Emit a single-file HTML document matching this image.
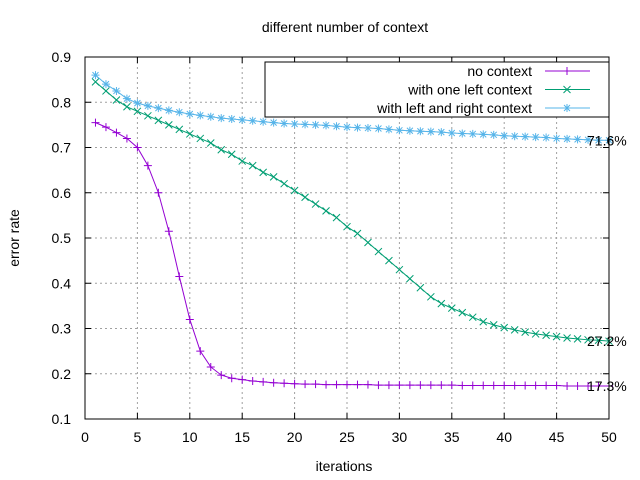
<!DOCTYPE html>
<html><head><meta charset="utf-8"><style>
body{margin:0;background:#fff}
svg{display:block;font-family:"Liberation Sans",sans-serif;font-size:14px}
</style></head><body>
<svg id="chart" width="640" height="480" xmlns="http://www.w3.org/2000/svg">
<rect width="640" height="480" fill="#fff"/>
<text x="345" y="32" text-anchor="middle">different number of context</text>
<text transform="translate(19,238) rotate(-90)" text-anchor="middle">error rate</text>
<text x="344" y="471" text-anchor="middle">iterations</text>
<g id="grid"></g><g id="ticks"></g><g id="series"></g>
<rect x="85" y="57" width="524" height="362" fill="none" stroke="#000"/>
<g id="legend">
<rect x="265" y="62" width="344" height="55" fill="#fff" stroke="#000"/>
</g>
<g id="labels"></g>
</svg>
<script>
const iterations=[1,2,3,4,5,6,7,8,9,10,11,12,13,14,15,16,17,18,19,20,21,22,23,24,25,26,27,28,29,30,31,32,33,34,35,36,37,38,39,40,41,42,43,44,45,46,47,48,49,50];
const noContext=[0.755,0.745,0.733,0.72,0.70,0.66,0.60,0.515,0.415,0.32,0.25,0.215,0.197,0.19,0.187,0.184,0.182,0.18,0.179,0.178,0.177,0.177,0.176,0.176,0.176,0.176,0.176,0.175,0.175,0.175,0.175,0.175,0.175,0.175,0.175,0.174,0.174,0.174,0.174,0.174,0.174,0.174,0.174,0.174,0.174,0.173,0.173,0.173,0.173,0.173];
const oneLeft=[0.845,0.825,0.805,0.79,0.78,0.77,0.76,0.75,0.74,0.73,0.72,0.71,0.695,0.685,0.67,0.66,0.645,0.635,0.62,0.605,0.59,0.575,0.56,0.545,0.525,0.51,0.49,0.47,0.45,0.43,0.41,0.39,0.37,0.355,0.345,0.335,0.325,0.315,0.308,0.302,0.297,0.292,0.288,0.285,0.282,0.279,0.277,0.275,0.274,0.272];
const leftRight=[0.86,0.84,0.825,0.808,0.798,0.792,0.787,0.782,0.778,0.774,0.771,0.768,0.765,0.763,0.761,0.759,0.757,0.755,0.753,0.752,0.751,0.75,0.749,0.747,0.745,0.744,0.743,0.742,0.740,0.738,0.737,0.736,0.735,0.734,0.732,0.731,0.730,0.729,0.728,0.726,0.725,0.724,0.723,0.722,0.720,0.719,0.718,0.717,0.716,0.716];
const xTicks=[0,5,10,15,20,25,30,35,40,45,50];
const yTicks=[0.1,0.2,0.3,0.4,0.5,0.6,0.7,0.8,0.9];
const seriesNames=["no context","with one left context","with left and right context"];
const finalLabels=["17.3%","27.2%","71.6%"];
const NS="http://www.w3.org/2000/svg";
const X=v=>85+v*524/50, Y=v=>419-(v-0.1)*362/0.8;
function mk(tag,attrs,parent){const e=document.createElementNS(NS,tag);for(const k in attrs)e.setAttribute(k,attrs[k]);document.getElementById(parent).appendChild(e);return e;}
xTicks.forEach(t=>{
 const g=mk('line',{x1:X(t),x2:X(t),y1:57,y2:419,stroke:'#a0a0a0','stroke-dasharray':'2,3'},'grid');
 
 
 const tl=mk('text',{x:X(t),y:442,'text-anchor':'middle'},'ticks');tl.textContent=t;
 
 
 mk('line',{x1:X(t),x2:X(t),y1:419,y2:413,stroke:'#000'},'ticks');
 mk('line',{x1:X(t),x2:X(t),y1:57,y2:63,stroke:'#000'},'ticks');
});
yTicks.forEach(t=>{
 const g=mk('line',{x1:85,x2:609,y1:Y(t),y2:Y(t),stroke:'#a0a0a0','stroke-dasharray':'2,3'},'grid');
 
 
 const tl=mk('text',{x:71,y:Y(t)+5,'text-anchor':'end'},'ticks');tl.textContent=t.toFixed(1);
 
 
 mk('line',{x1:85,x2:91,y1:Y(t),y2:Y(t),stroke:'#000'},'ticks');
 mk('line',{x1:609,x2:603,y1:Y(t),y2:Y(t),stroke:'#000'},'ticks');
});
function marker(type,x,y,c,parent){
 let d;
 if(type==0)d=`M${x-4},${y}h8M${x},${y-4}v8`;
 else if(type==1)d=`M${x-3.5},${y-3.5}l7,7M${x-3.5},${y+3.5}l7,-7`;
 else d=`M${x-4},${y}h8M${x},${y-4}v8M${x-3},${y-3}l6,6M${x-3},${y+3}l6,-6`;
 mk('path',{d:d,stroke:c,fill:'none','stroke-width':1},parent);
}
const data=[noContext,oneLeft,leftRight],colors=['#9400d3','#009e73','#56b4e9'],names=['no-context-series','one-left-context-series','left-right-context-series'];
data.forEach((s,i)=>{
 const g=mk('g',{id:'s'+i},'series');
 
 
 const l=mk('polyline',{points:s.map((v,j)=>X(iterations[j])+','+Y(v)).join(' '),fill:'none',stroke:colors[i]},'s'+i);
 
 
 s.forEach((v,j)=>marker(i,X(iterations[j]),Y(v),colors[i],'s'+i));
 const ly=71+i*18.5;
 const lt=mk('text',{x:532,y:ly+5,'text-anchor':'end'},'legend');lt.textContent=seriesNames[i];
 
 
 mk('line',{x1:545,x2:590,y1:ly,y2:ly,stroke:colors[i]},'legend');
 marker(i,567,ly,colors[i],'legend');
 const fl=mk('text',{x:587,y:Y(s[s.length-1])+5},'labels');fl.textContent=finalLabels[i];
 
 
});
</script>
</body></html>
